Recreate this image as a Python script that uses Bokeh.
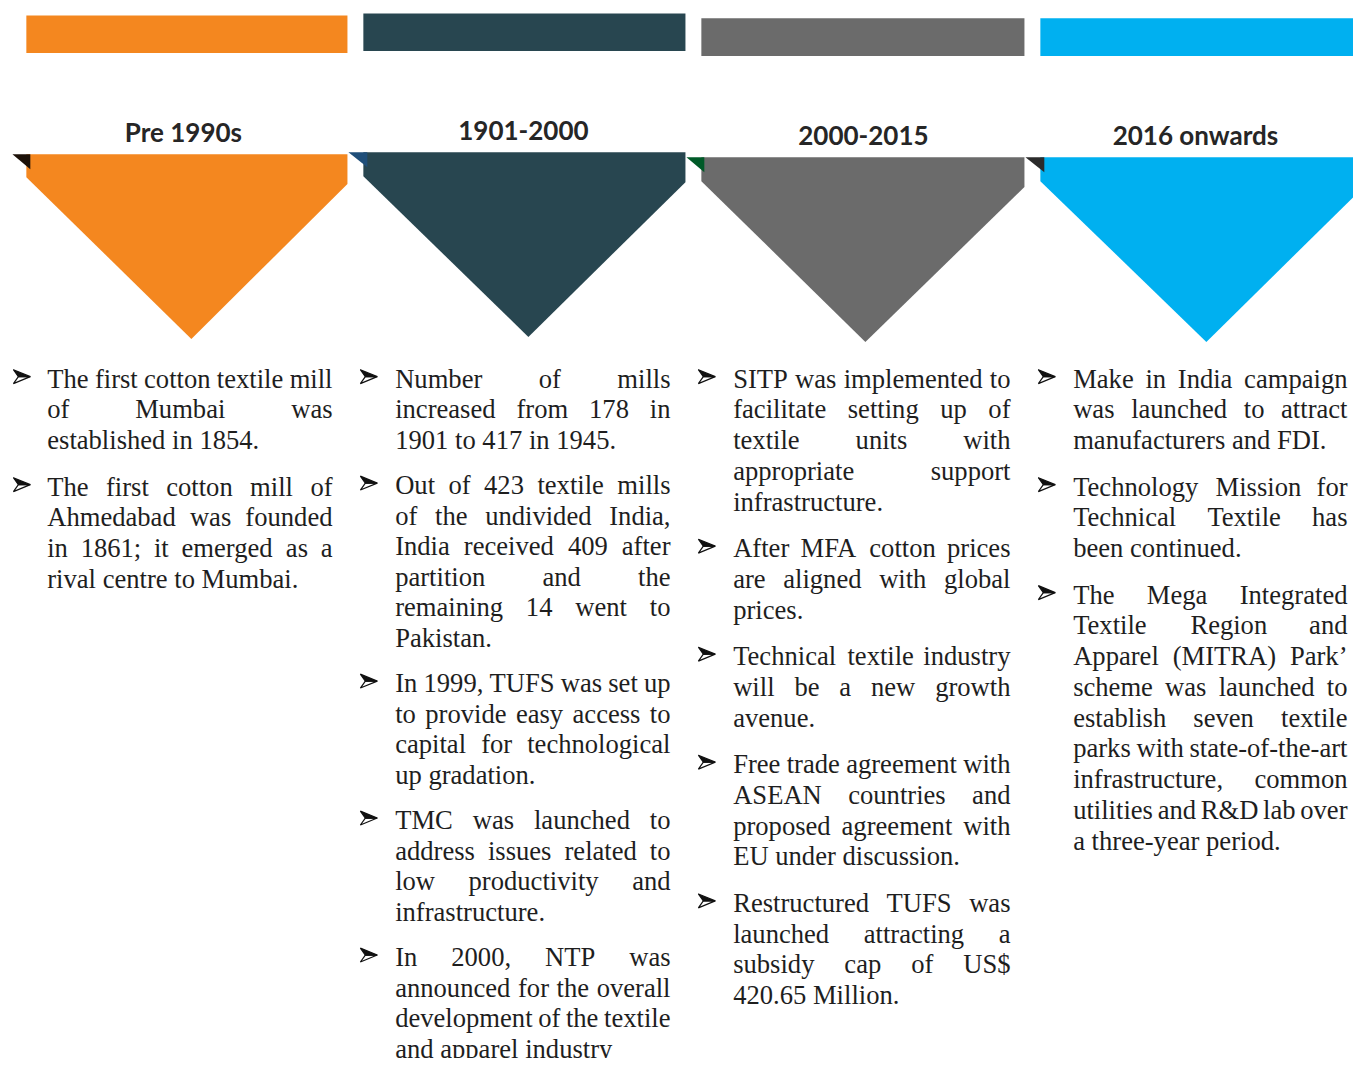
from bokeh.plotting import figure
from bokeh.models import ColumnDataSource, Range1d
from bokeh.core.properties import value
from bokeh.embed import file_html
from bokeh.resources import INLINE

# ---------------- data ----------------
periods = ["Pre 1990s", "1901-2000", "2000-2015", "2016 onwards"]
panel_colors = ["#f4871f", "#284650", "#6b6b6b", "#00b0f0"]
corner_colors = ["#1c1108", "#1f4e79", "#005a28", "#2b2b2b"]

pre_1990s = [
    ["The first cotton textile mill", "of Mumbai was", "established in 1854."],
    ["The first cotton mill of", "Ahmedabad was founded", "in 1861; it emerged as a",
     "rival centre to Mumbai."],
]
y1901_2000 = [
    ["Number of mills", "increased from 178 in", "1901 to 417 in 1945."],
    ["Out of 423 textile mills", "of the undivided India,", "India received 409 after",
     "partition and the", "remaining 14 went to", "Pakistan."],
    ["In 1999, TUFS was set up", "to provide easy access to", "capital for technological",
     "up gradation."],
    ["TMC was launched to", "address issues related to", "low productivity and",
     "infrastructure."],
    ["In 2000, NTP was", "announced for the overall", "development of the textile",
     "and apparel industry"],
]
y2000_2015 = [
    ["SITP was implemented to", "facilitate setting up of", "textile units with",
     "appropriate support", "infrastructure."],
    ["After MFA cotton prices", "are aligned with global", "prices."],
    ["Technical textile industry", "will be a new growth", "avenue."],
    ["Free trade agreement with", "ASEAN countries and", "proposed agreement with",
     "EU under discussion."],
    ["Restructured TUFS was", "launched attracting a", "subsidy cap of US$",
     "420.65 Million."],
]
y2016_onwards = [
    ["Make in India campaign", "was launched to attract", "manufacturers and FDI."],
    ["Technology Mission for", "Technical Textile has", "been continued."],
    ["The Mega Integrated", "Textile Region and", "Apparel (MITRA) Park\u2019",
     "scheme was launched to", "establish seven textile", "parks with state-of-the-art",
     "infrastructure, common", "utilities and R&D lab over", "a three-year period."],
]
panel_texts = [pre_1990s, y1901_2000, y2000_2015, y2016_onwards]

# ---------------- layout (reference pixels) ----------------
bar_left = [26, 365, 705, 1046]
bar_right = [349, 689, 1030, 1371]
bar_top = [15, 13, 18, 18]
bar_bottom = [53, 51, 56, 56]
head_x = [184, 526, 868, 1202]
head_base = [132, 131, 136, 136]
pent_top = [155, 153, 158, 158]
left_drop = [178, 177, 182, 182]
right_drop = [185, 183, 188, 188]
apex_x = [192, 531, 870, 1213]
apex_y = [341, 339, 344, 344]
corner_l = [12, 350, 690, 1031]
corner_r = [30, 369, 708, 1050]
text_left = [47, 397, 737, 1079]
text_right = [334, 674, 1016, 1355]
bullet_x = [13, 362, 702, 1044]
line_step = [31.0, 30.75, 31.0, 31.0]
para_gap = [15.8, 15.0, 15.8, 15.8]

REF_W, REF_H = 1361, 1066
PW, PH = 1353, 1058
SX = PW / REF_W

FS = 26.6
FIRST_BASE = 381

# Times metrics (per 1000 em)
W = {' ': 250, '!': 333, '"': 408, '#': 500, '$': 500, '%': 833, '&': 778, "'": 180,
     '(': 333, ')': 333, '*': 500, '+': 564, ',': 250, '-': 333, '.': 250, '/': 278,
     ':': 278, ';': 278, '<': 564, '=': 564, '>': 564, '?': 444, '@': 921,
     'A': 722, 'B': 667, 'C': 667, 'D': 722, 'E': 611, 'F': 556, 'G': 722, 'H': 722,
     'I': 333, 'J': 389, 'K': 722, 'L': 611, 'M': 889, 'N': 722, 'O': 722, 'P': 556,
     'Q': 722, 'R': 667, 'S': 556, 'T': 611, 'U': 722, 'V': 722, 'W': 944, 'X': 722,
     'Y': 722, 'Z': 611, 'a': 444, 'b': 500, 'c': 444, 'd': 500, 'e': 444, 'f': 333,
     'g': 500, 'h': 500, 'i': 278, 'j': 278, 'k': 500, 'l': 278, 'm': 778, 'n': 500,
     'o': 500, 'p': 500, 'q': 500, 'r': 333, 's': 389, 't': 278, 'u': 500, 'v': 500,
     'w': 722, 'x': 500, 'y': 500, 'z': 444, '\u2019': 333}
for d in "0123456789":
    W[d] = 500


def tw(s):
    # rendered width in screen px, converted to data units
    return sum(W.get(c, 500) for c in s) / 1000.0 * FS / SX


p = figure(width=PW, height=PH, output_backend="svg", toolbar_location=None,
           x_range=Range1d(0, REF_W), y_range=Range1d(REF_H, 0), min_border=0)
p.axis.visible = False
p.grid.visible = False
p.outline_line_color = None
p.background_fill_color = "white"
p.border_fill_color = "white"

# top bars
p.quad(left=bar_left, right=bar_right, top=bar_top, bottom=bar_bottom,
       fill_color=panel_colors, line_color=None)

# pentagons
xs, ys = [], []
for k in range(4):
    xs.append([bar_left[k], bar_right[k], bar_right[k], apex_x[k], bar_left[k]])
    ys.append([pent_top[k], pent_top[k], right_drop[k], apex_y[k], left_drop[k]])
p.patches(xs, ys, fill_color=panel_colors, line_color=None)

# folded corners
cxs, cys = [], []
for k in range(4):
    cxs.append([corner_l[k], corner_r[k], corner_r[k]])
    cys.append([pent_top[k], pent_top[k], pent_top[k] + 15])
p.patches(cxs, cys, fill_color=corner_colors, line_color=None)

# headers
p.text(x=head_x, y=head_base, text=periods, text_align="center",
       text_baseline="alphabetic", text_font=value("Lato"), text_font_style="bold",
       text_font_size="26px", text_color="#262626")

# body text (justified word by word)
wx, wy, wt = [], [], []
bullet_y = []
bull_k = []
for k, paras in enumerate(panel_texts):
    colw = text_right[k] - text_left[k]
    y = FIRST_BASE
    for pi, para in enumerate(paras):
        if pi > 0:
            y += para_gap[k]
        bullet_y.append(y)
        bull_k.append(k)
        for li, line in enumerate(para):
            words = line.split()
            widths = [tw(w) for w in words]
            last = li == len(para) - 1
            if last or len(words) == 1:
                gap = tw(" ")
            else:
                gap = (colw - sum(widths)) / (len(words) - 1)
            x = text_left[k]
            for w, wd in zip(words, widths):
                wx.append(x)
                wy.append(y)
                wt.append(w)
                x += wd + gap
            y += line_step[k]

src = ColumnDataSource(dict(x=wx, y=wy, t=wt))
p.text(x="x", y="y", text="t", source=src, text_align="left", text_baseline="alphabetic",
       text_font=value("Liberation Serif"), text_font_size=f"{FS}px", text_color="#1e1e1e")

# arrowhead bullets (3D top-lit arrowhead)
BW, BH, NOTCH = 17, 14, 5
top_x, top_y, bot_x, bot_y = [], [], [], []
for k, yb in zip(bull_k, bullet_y):
    x0 = bullet_x[k]
    yc = yb - 2
    top_x.append([x0, x0 + BW, x0 + NOTCH])
    top_y.append([yc - BH / 2, yc, yc])
    bot_x.append([x0, x0 + BW, x0 + NOTCH])
    bot_y.append([yc + BH / 2, yc, yc])
p.patches(bot_x, bot_y, fill_color="white", line_color="#111111", line_width=1.2)
p.patches(top_x, top_y, fill_color="#111111", line_color="#111111", line_width=1.2)

open("out.html", "w").write(file_html(p, INLINE))
